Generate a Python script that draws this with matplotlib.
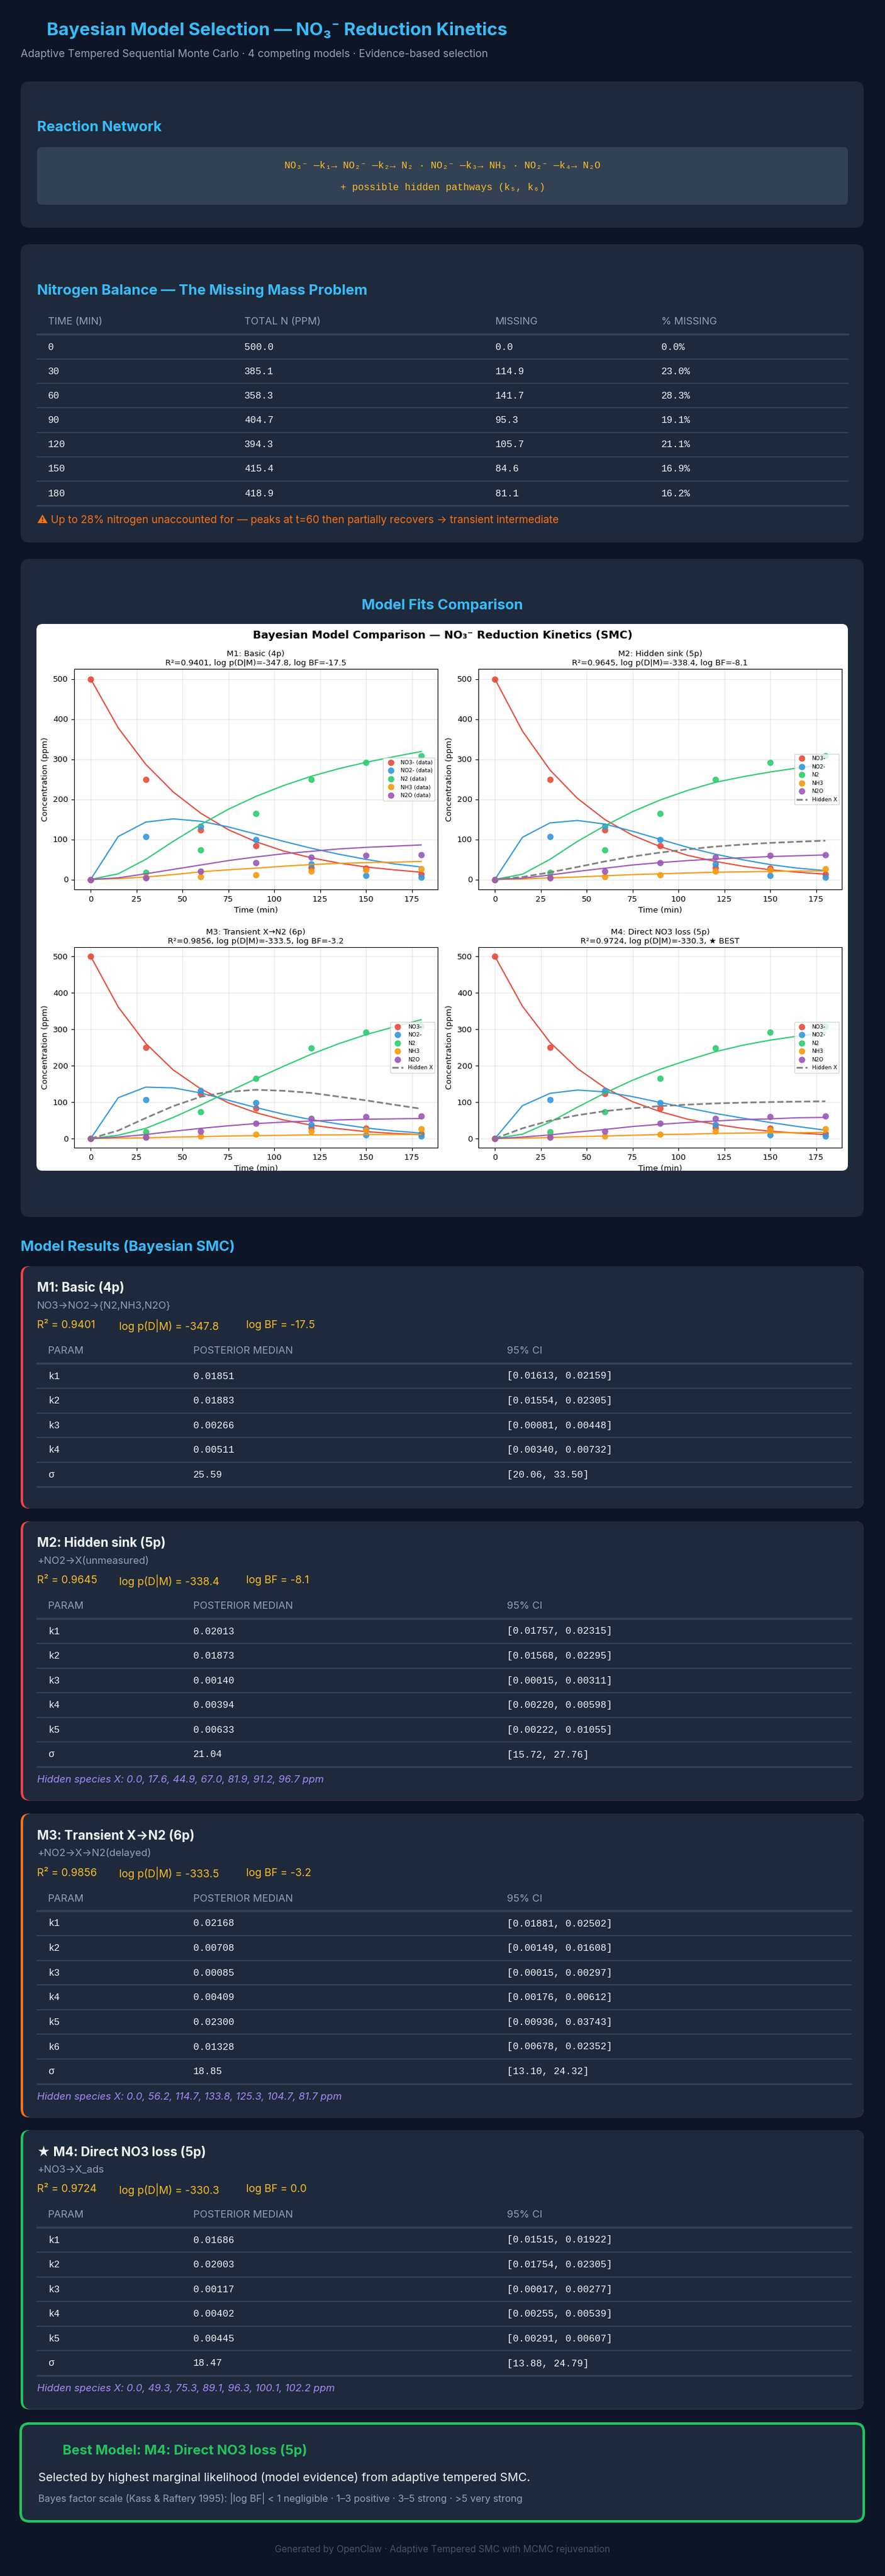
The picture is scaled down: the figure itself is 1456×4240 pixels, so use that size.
import matplotlib
matplotlib.use("Agg")
import matplotlib.pyplot as plt
from matplotlib.patches import FancyBboxPatch

plt.rcParams['font.family'] = ['Inter', 'DejaVu Sans']
MONO = ['Liberation Mono', 'DejaVu Sans Mono']

# ---------------- data ----------------
t_data = [0, 30, 60, 90, 120, 150, 180]
obs = {
    'NO3-': [500, 250, 123, 84, 30, 28, 13],
    'NO2-': [0, 107, 132, 99, 39, 10, 6],
    'N2':   [0, 18, 74, 165, 249, 291, 309],
    'NH3':  [0, 5, 7, 12, 20, 23, 27],
    'N2O':  [0, 4, 20, 41, 55, 60, 61],
}
species = ['NO3-', 'NO2-', 'N2', 'NH3', 'N2O']
sp_colors = ['#e74c3c', '#3498db', '#2ecc71', '#f39c12', '#9b59b6']

t_fit = [0, 15, 30, 45, 60, 75, 90, 105, 120, 135, 150, 165, 180]
fit_m1 = {
    'NO3-': [500, 378, 287, 218, 165, 124, 94, 71, 54, 41, 31, 24, 18],
    'NO2-': [0, 107, 143, 151, 145, 131, 113, 95, 78, 63, 50, 39, 31],
    'N2':   [0, 14, 50, 95, 137, 175, 207, 234, 257, 276, 292, 306, 319],
    'NH3':  [0, 2, 6, 12, 19, 24, 28, 33, 37, 40, 42, 43, 45],
    'N2O':  [0, 4, 14, 25, 36, 47, 56, 64, 70, 76, 80, 83, 86],
}
fit_m2 = {
    'NO3-': [500, 370, 273, 202, 149, 110, 82, 60, 45, 33, 24, 18, 13],
    'NO2-': [0, 105, 141, 147, 138, 120, 100, 80, 63, 49, 37, 28, 22],
    'N2':   [0, 13, 50, 95, 134, 169, 198, 222, 242, 256, 268, 278, 286],
    'NH3':  [0, 1, 4, 6, 9, 12, 14, 16, 18, 19, 20, 21, 21],
    'N2O':  [0, 3, 11, 20, 28, 36, 42, 47, 51, 54, 57, 59, 61],
    'X':    [0, 6, 17.6, 31, 44.9, 57, 67.0, 75, 81.9, 87, 91.2, 94, 96.7],
}
fit_m3 = {
    'NO3-': [500, 361, 261, 188, 136, 98, 71, 51, 37, 27, 19, 14, 11],
    'NO2-': [0, 112, 141, 139, 125, 105, 85, 67, 52, 40, 29, 21, 15],
    'N2':   [0, 9, 28, 58, 92, 128, 164, 198, 231, 260, 285, 306, 326],
    'NH3':  [0, 1, 2, 4, 5, 7, 8, 9, 10, 10, 11, 11, 11],
    'N2O':  [0, 4, 11, 20, 28, 35, 41, 45, 48, 51, 53, 54, 55],
    'X':    [0, 22, 56.2, 89, 114.7, 128, 133.8, 131, 125.3, 115, 104.7, 93, 81.7],
}
fit_m4 = {
    'NO3-': [500, 363, 264, 192, 139, 101, 74, 53, 39, 28, 20, 15, 11],
    'NO2-': [0, 90, 124, 133, 128, 115, 99, 84, 69, 56, 44, 33, 23],
    'N2':   [0, 12, 45, 86, 125, 160, 190, 215, 238, 256, 270, 281, 290],
    'NH3':  [0, 1, 3, 5, 7, 9, 11, 12, 14, 15, 16, 16, 17],
    'N2O':  [0, 4, 10, 18, 25, 33, 39, 44, 48, 52, 54, 57, 58],
    'X':    [0, 28, 49.3, 64, 75.3, 83, 89.1, 93, 96.3, 98.5, 100.1, 101.3, 102.2],
}
panel_titles = [
    'M1: Basic (4p)\nR²=0.9401, log p(D|M)=-347.8, log BF=-17.5',
    'M2: Hidden sink (5p)\nR²=0.9645, log p(D|M)=-338.4, log BF=-8.1',
    'M3: Transient X→N2 (6p)\nR²=0.9856, log p(D|M)=-333.5, log BF=-3.2',
    'M4: Direct NO3 loss (5p)\nR²=0.9724, log p(D|M)=-330.3, ★ BEST',
]
fits = [fit_m1, fit_m2, fit_m3, fit_m4]

balance_cols = ['TIME (MIN)', 'TOTAL N (PPM)', 'MISSING', '% MISSING']
balance_time = ['0', '30', '60', '90', '120', '150', '180']
balance_total = ['500.0', '385.1', '358.3', '404.7', '394.3', '415.4', '418.9']
balance_missing = ['0.0', '114.9', '141.7', '95.3', '105.7', '84.6', '81.1']
balance_pct = ['0.0%', '23.0%', '28.3%', '19.1%', '21.1%', '16.9%', '16.2%']

model_names = ['M1: Basic (4p)', 'M2: Hidden sink (5p)', 'M3: Transient X→N2 (6p)', '★ M4: Direct NO3 loss (5p)']
model_desc = ['NO3→NO2→{N2,NH3,N2O}', '+NO2→X(unmeasured)', '+NO2→X→N2(delayed)', '+NO3→X_ads']
model_r2 = ['0.9401', '0.9645', '0.9856', '0.9724']
model_logp = ['-347.8', '-338.4', '-333.5', '-330.3']
model_bf = ['-17.5', '-8.1', '-3.2', '0.0']
model_params = [
    ['k1', 'k2', 'k3', 'k4', 'σ'],
    ['k1', 'k2', 'k3', 'k4', 'k5', 'σ'],
    ['k1', 'k2', 'k3', 'k4', 'k5', 'k6', 'σ'],
    ['k1', 'k2', 'k3', 'k4', 'k5', 'σ'],
]
model_median = [
    ['0.01851', '0.01883', '0.00266', '0.00511', '25.59'],
    ['0.02013', '0.01873', '0.00140', '0.00394', '0.00633', '21.04'],
    ['0.02168', '0.00708', '0.00085', '0.00409', '0.02300', '0.01328', '18.85'],
    ['0.01686', '0.02003', '0.00117', '0.00402', '0.00445', '18.47'],
]
model_ci = [
    ['[0.01613, 0.02159]', '[0.01554, 0.02305]', '[0.00081, 0.00448]', '[0.00340, 0.00732]', '[20.06, 33.50]'],
    ['[0.01757, 0.02315]', '[0.01568, 0.02295]', '[0.00015, 0.00311]', '[0.00220, 0.00598]',
     '[0.00222, 0.01055]', '[15.72, 27.76]'],
    ['[0.01881, 0.02502]', '[0.00149, 0.01608]', '[0.00015, 0.00297]', '[0.00176, 0.00612]',
     '[0.00936, 0.03743]', '[0.00678, 0.02352]', '[13.10, 24.32]'],
    ['[0.01515, 0.01922]', '[0.01754, 0.02305]', '[0.00017, 0.00277]', '[0.00255, 0.00539]',
     '[0.00291, 0.00607]', '[13.88, 24.79]'],
]
model_hidden = [None,
                'Hidden species X: 0.0, 17.6, 44.9, 67.0, 81.9, 91.2, 96.7 ppm',
                'Hidden species X: 0.0, 56.2, 114.7, 133.8, 125.3, 104.7, 81.7 ppm',
                'Hidden species X: 0.0, 49.3, 75.3, 89.1, 96.3, 100.1, 102.2 ppm']
model_accent = ['#ef4444', '#ef4444', '#f97316', '#22c55e']
model_top = [2084, 2504, 2985, 3506]

# ---------------- colours ----------------
BG = '#0d1526'
CARD = '#1e293b'
INNER = '#334155'
CYAN = '#38bdf8'
GOLD = '#fbbf24'
MUTED = '#94a3b8'
LINE = '#334155'
WHITE = '#f1f5f9'
PURPLE = '#a78bfa'
GREEN = '#22c55e'

W, H = 1456, 4240
fig = plt.figure(figsize=(W / 100, H / 100), dpi=100, facecolor=BG)
bg = fig.add_axes([0, 0, 1, 1])
bg.set_xlim(0, W)
bg.set_ylim(H, 0)
bg.axis('off')


def box(x0, y0, x1, y1, fc, ec='none', lw=0, r=14, z=1):
    p = FancyBboxPatch((x0, y0), x1 - x0, y1 - y0, boxstyle=f"round,pad=0,rounding_size={r}",
                       fc=fc, ec=ec, lw=lw, zorder=z)
    bg.add_patch(p)


def hline(y, x0=61, x1=1400, lw=1.5, c=LINE):
    bg.plot([x0, x1], [y, y], color=c, lw=lw, zorder=3)


def txt(x, y, s, size=12, color=WHITE, weight='normal', family=None, ha='left', style='normal'):
    kw = {}
    if family is not None:
        kw['family'] = family
    bg.text(x, y, s, fontsize=size, color=color, weight=weight, ha=ha, va='center',
            style=style, zorder=5, **kw)


# header
txt(77, 50, 'Bayesian Model Selection — NO₃⁻ Reduction Kinetics', size=21, color=CYAN, weight='bold')
txt(34, 89, 'Adaptive Tempered Sequential Monte Carlo · 4 competing models · Evidence-based selection',
    size=12.5, color=MUTED)

# reaction network
box(34, 134, 1421, 375, CARD)
txt(61, 210, 'Reaction Network', size=17, color=CYAN, weight='bold')
box(61, 242, 1395, 337, INNER, r=8, z=2)
txt(728, 272, 'NO₃⁻ —k₁→ NO₂⁻ —k₂→ N₂ · NO₂⁻ —k₃→ NH₃ · NO₂⁻ —k₄→ N₂O', size=11.5, color=GOLD,
    family=MONO, ha='center')
txt(728, 308, '+ possible hidden pathways (k₅, k₆)', size=11.5, color=GOLD, family=MONO, ha='center')

# nitrogen balance
box(34, 402, 1421, 893, CARD)
txt(61, 478, 'Nitrogen Balance — The Missing Mass Problem', size=17, color=CYAN, weight='bold')
col_x = [79, 402, 815, 1088]
for cx, h in zip(col_x, balance_cols):
    txt(cx, 530, h, size=12, color=MUTED)
hline(550, 61, 1395, lw=2.5)
for i in range(len(balance_time)):
    y = 571 + i * 40.2
    for cx, v in zip(col_x, [balance_time[i], balance_total[i], balance_missing[i], balance_pct[i]]):
        txt(cx, y, v, size=11.5, color=WHITE, family=MONO)
    hline(y + 20, 61, 1395, lw=2 if i == len(balance_time) - 1 else 1.5)
txt(61, 856, '⚠ Up to 28% nitrogen unaccounted for — peaks at t=60 then partially recovers → transient intermediate',
    size=12.5, color='#f97316')

# model fits
box(34, 920, 1421, 2003, CARD)
txt(728, 996, 'Model Fits Comparison', size=17, color=CYAN, weight='bold', ha='center')
box(60, 1027, 1395, 1927, 'white', r=10, z=2)
bg.text(728, 1046, 'Bayesian Model Comparison — NO₃⁻ Reduction Kinetics (SMC)', fontsize=13, weight='bold',
        ha='center', va='center', family='DejaVu Sans', color='black', zorder=5)

axes_px = [(122, 1101, 720, 1464), (787, 1101, 1385, 1464),
           (122, 1559, 720, 1889), (787, 1559, 1385, 1889)]
for k, (x0, y0, x1, y1) in enumerate(axes_px):
    ax = fig.add_axes([x0 / W, 1 - y1 / H, (x1 - x0) / W, (y1 - y0) / H])
    ax.set_facecolor('white')
    fit = fits[k]
    for sp, c in zip(species, sp_colors):
        lab = f'{sp} (data)' if k == 0 else sp
        ax.plot(t_data, obs[sp], 'o', color=c, ms=6.5, alpha=0.9, label=lab)
        ax.plot(t_fit, fit[sp], '-', color=c, lw=1.5)
    if 'X' in fit:
        ax.plot(t_fit, fit['X'], '--', color='gray', lw=2, label='Hidden X')
    ax.set_xlim(-9, 189)
    ax.set_ylim(-25, 525)
    ax.grid(alpha=0.3)
    ax.tick_params(labelsize=9.5, colors='black')
    ax.set_xlabel('Time (min)', fontsize=9.5, family='DejaVu Sans')
    ax.set_ylabel('Concentration (ppm)', fontsize=9.5, family='DejaVu Sans')
    ax.set_title(panel_titles[k], fontsize=9.5, family='DejaVu Sans', pad=4)
    for lbl in ax.get_xticklabels() + ax.get_yticklabels():
        lbl.set_family('DejaVu Sans')
    ax.legend(loc='center right', prop={'family': 'DejaVu Sans', 'size': 6.5})

# model results
txt(34, 2052, 'Model Results (Bayesian SMC)', size=17, color=CYAN, weight='bold')
for m in range(4):
    top = model_top[m]
    n = len(model_params[m])
    header_y = top + 140
    last_line = header_y + 20 + n * 40.6
    bottom = last_line + (36 if model_hidden[m] is None else 56)
    box(34, top, 1421, bottom, model_accent[m], r=14)
    box(38, top, 1421, bottom, CARD, r=14, z=1.5)
    txt(61, top + 36, model_names[m], size=15, color=WHITE, weight='bold')
    txt(61, top + 65, model_desc[m], size=12, color=MUTED)
    txt(61, top + 98, f'R² = {model_r2[m]}', size=12.5, color=GOLD)
    txt(196, top + 98, f'log p(D|M) = {model_logp[m]}', size=12.5, color=GOLD)
    txt(405, top + 98, f'log BF = {model_bf[m]}', size=12.5, color=GOLD)
    txt(79, header_y, 'PARAM', size=12, color=MUTED)
    txt(318, header_y, 'POSTERIOR MEDIAN', size=12, color=MUTED)
    txt(834, header_y, '95% CI', size=12, color=MUTED)
    hline(header_y + 20, lw=2.5)
    for i in range(n):
        y = header_y + 41 + i * 40.6
        txt(79, y, model_params[m][i], size=11.5, family=MONO)
        txt(318, y, model_median[m][i], size=11.5, family=MONO)
        txt(834, y, model_ci[m][i], size=11.5, family=MONO)
        hline(y + 20, lw=2 if i == n - 1 else 1.5)
    if model_hidden[m] is not None:
        txt(61, last_line + 22, model_hidden[m], size=12, color=PURPLE, style='italic')

# best model
box(34, 3989, 1421, 4150, CARD, ec=GREEN, lw=3, r=14)
txt(103, 4033, 'Best Model: M4: Direct NO3 loss (5p)', size=16, color=GREEN, weight='bold')
txt(63, 4079, 'Selected by highest marginal likelihood (model evidence) from adaptive tempered SMC.',
    size=14, color=WHITE)
txt(63, 4112, 'Bayes factor scale (Kass & Raftery 1995): |log BF| < 1 negligible · 1–3 positive · 3–5 strong · >5 very strong',
    size=11.5, color=MUTED)

txt(728, 4196, 'Generated by OpenClaw · Adaptive Tempered SMC with MCMC rejuvenation', size=11,
    color='#475569', ha='center')

fig.savefig('out.png', dpi=100, facecolor=BG)
